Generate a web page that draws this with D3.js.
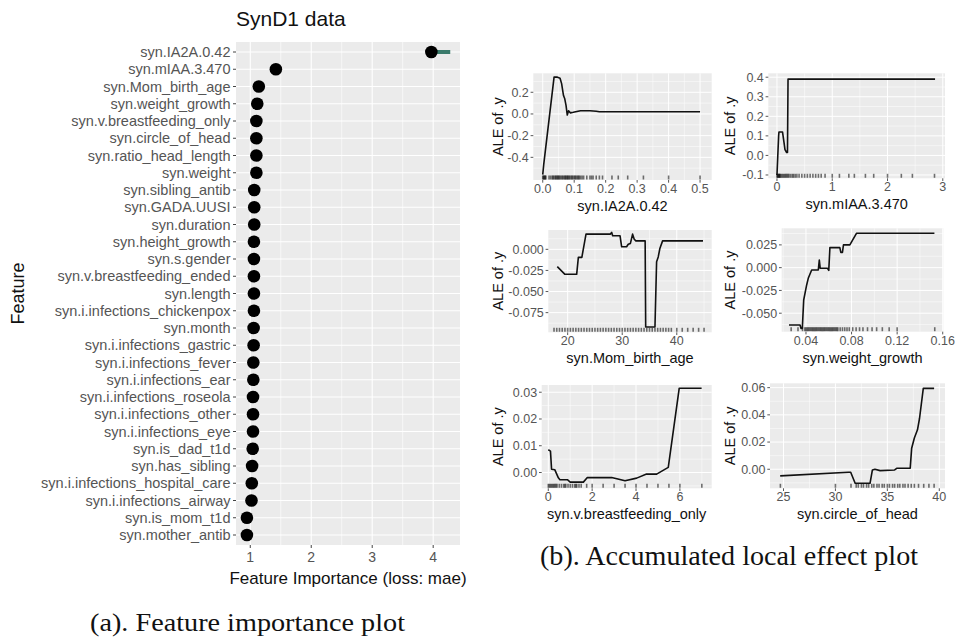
<!DOCTYPE html>
<html><head><meta charset="utf-8">
<script src="https://cdn.jsdelivr.net/npm/d3@7"></script>
<style>body{margin:0;background:#fff}svg{display:block}</style>
</head><body><svg id="c" width="955" height="643"></svg>
<script>
// ---------------- DATA ----------------
const features = ["syn.IA2A.0.42","syn.mIAA.3.470","syn.Mom_birth_age","syn.weight_growth","syn.v.breastfeeding_only","syn.circle_of_head","syn.ratio_head_length","syn.weight","syn.sibling_antib","syn.GADA.UUSI","syn.duration","syn.height_growth","syn.s.gender","syn.v.breastfeeding_ended","syn.length","syn.i.infections_chickenpox","syn.month","syn.i.infections_gastric","syn.i.infections_fever","syn.i.infections_ear","syn.i.infections_roseola","syn.i.infections_other","syn.i.infections_eye","syn.is_dad_t1d","syn.has_sibling","syn.i.infections_hospital_care","syn.i.infections_airway","syn.is_mom_t1d","syn.mother_antib"];
const importance = [3.97,1.42,1.14,1.115,1.1,1.1,1.1,1.1,1.065,1.065,1.065,1.06,1.06,1.06,1.06,1.06,1.055,1.055,1.05,1.05,1.045,1.045,1.045,1.04,1.03,1.025,1.02,0.945,0.945];
const spreadFeature = "syn.IA2A.0.42";
const spreadRange = [3.97, 4.28];
const importanceTicks = [1,2,3,4];

const ale1X = [0,0.003,0.036,0.045,0.055,0.06,0.066,0.07,0.074,0.078,0.082,0.088,0.097,0.12,0.15,0.17,0.18,0.5];
const ale1Y = [-0.56,-0.47,0.34,0.34,0.33,0.28,0.17,0.14,0.08,-0.01,0.03,0.01,0.015,0.03,0.03,0.025,0.02,0.02];
const rug1 = [0,0.002,0.004,0.006,0.008,0.01,0.02,0.025,0.03,0.033,0.036,0.04,0.042,0.045,0.048,0.05,0.053,0.056,0.06,0.063,0.066,0.07,0.072,0.075,0.078,0.08,0.083,0.086,0.09,0.093,0.096,0.1,0.103,0.106,0.11,0.113,0.116,0.12,0.125,0.13,0.14,0.15,0.155,0.16,0.17,0.18,0.19,0.22,0.24,0.27,0.32,0.4,0.5];

const ale2X = [0,0.03,0.036,0.1,0.125,0.145,0.175,0.19,0.2,2.86];
const ale2Y = [-0.1,0.1,0.12,0.12,0.07,0.03,0.015,0.015,0.39,0.39];
const rug2 = [0,0.01,0.02,0.03,0.04,0.05,0.06,0.08,0.1,0.12,0.14,0.16,0.18,0.2,0.22,0.25,0.28,0.3,0.33,0.36,0.4,0.45,0.5,0.55,0.6,0.65,0.7,0.75,0.8,0.87,1.0,1.13,1.3,1.4,1.6,1.75,2.0,2.25,2.45,2.85];

const ale3X = [18.1,19.5,21.65,21.96,22.6,23.36,27.8,28.07,28.25,29.6,29.9,30.8,31.1,31.5,31.9,32.2,32.5,34.2,34.3,36.0,36.3,36.6,36.9,37.4,44.8];
const ale3Y = [-0.0205,-0.0296,-0.0296,-0.0095,-0.0095,0.018,0.018,0.02,0.016,0.016,0.003,0.003,0.006,0.007,0.018,0.012,0.010,0.010,-0.092,-0.092,-0.0146,-0.009,0.001,0.010,0.010];
const rug3 = [17.5,18,18.5,19,19.5,20,20.5,21,21.5,22,22.5,23,23.5,24,24.5,25,25.5,26,26.5,27,27.5,28,28.5,29,29.5,30,30.5,31,31.5,32,32.5,33,33.5,34,34.5,35,35.5,36,36.5,37,37.5,38,38.5,39,40,41,42,43,44,45];

const ale4X = [0.0251,0.0348,0.0356,0.0368,0.038,0.0406,0.042,0.045,0.0508,0.0517,0.0525,0.0589,0.06,0.061,0.0697,0.0706,0.072,0.0729,0.0785,0.0843,0.1527];
const ale4Y = [-0.063,-0.063,-0.0666,-0.0666,-0.0355,-0.019,-0.0117,-0.0026,-0.0026,0.0084,-0.0007,-0.0007,-0.003,0.022,0.022,0.0168,0.0168,0.025,0.025,0.0377,0.0377];
const rug4 = [0.027,0.033,0.037,0.039,0.04,0.041,0.042,0.043,0.044,0.045,0.046,0.047,0.048,0.049,0.05,0.051,0.052,0.053,0.054,0.055,0.056,0.057,0.058,0.059,0.06,0.061,0.062,0.063,0.064,0.065,0.066,0.067,0.068,0.07,0.072,0.074,0.076,0.078,0.081,0.084,0.087,0.09,0.094,0.098,0.102,0.107,0.113,0.12,0.153];

const ale5X = [0,0.1,0.15,0.3,0.46,0.53,0.87,1.0,1.6,1.78,2.89,3.5,4.03,4.48,4.94,5.47,5.97,6.99];
const ale5Y = [0.0085,0.008,0.0012,0.001,-0.002,-0.0027,-0.0027,-0.0036,-0.0036,-0.0019,-0.0019,-0.0031,-0.0021,-0.0006,-0.0006,0.0019,0.0315,0.0315];
const rug5 = [0,0.05,0.1,0.15,0.2,0.25,0.3,0.35,0.4,0.5,0.6,0.7,0.75,0.8,0.9,1,1.1,1.2,1.25,1.3,1.4,1.5,1.75,2,2.5,3,3.5,4,4.5,5,5.5,6,7];

const ale6X = [24.68,31.25,31.47,31.9,33.33,33.56,33.8,34.3,35.7,35.9,37.2,37.34,37.6,37.9,38.1,38.46,39.5];
const ale6Y = [-0.0049,-0.0022,-0.0022,-0.0103,-0.0103,-0.0005,0,-0.001,-0.0005,0.0007,0.0007,0.0155,0.023,0.029,0.0375,0.0595,0.0595];
const rug6 = [24.7,30,31.5,32,32.2,32.5,32.7,33,33.2,33.5,33.7,34,34.2,34.5,34.7,35,35.2,35.5,35.7,36,36.2,36.5,36.7,37,37.3,37.6,38,38.5,39,39.5];

const aleTitles = ["syn.IA2A.0.42","syn.mIAA.3.470","syn.Mom_birth_age","syn.weight_growth","syn.v.breastfeeding_only","syn.circle_of_head"];
const aleXTicks = [[0,0.1,0.2,0.3,0.4,0.5],[0,1,2,3],[20,30,40],[0.04,0.08,0.12,0.16],[0,2,4,6],[25,30,35,40]];
const aleYTicks = [[-0.4,-0.2,0,0.2],[-0.1,0,0.1,0.2,0.3,0.4],[-0.075,-0.05,-0.025,0],[-0.05,-0.025,0,0.025],[0,0.01,0.02,0.03],[0,0.02,0.04,0.06]];
const aleXFormat = [".1f","d",".0f",".2f",".0f",".0f"];
const aleYFormat = [".1f",".1f",".3f",".3f",".2f",".2f"];

// ---------------- LAYOUT ----------------
const svg = d3.select("#c");
const loc = d3.formatLocale({decimal:".",thousands:",",grouping:[3],currency:["",""],minus:"-"});
const SANS = "'Liberation Sans', Arial, Helvetica, sans-serif";
const SERIF = "'Liberation Serif', 'Times New Roman', serif";
const BG = "#EBEBEB", TXT = "#555555", TICK = "#444444";

// ---- Left: feature importance ----
(function(){
  const L = {x0:236, x1:460, y0:42, y1:545};
  const x = d3.scaleLinear().domain([0.766, 4.44]).range([L.x0, L.x1]);
  const y = d3.scalePoint().domain(features).range([52, 535]);
  const g = svg.append("g");
  g.append("rect").attr("x",L.x0).attr("y",L.y0).attr("width",L.x1-L.x0).attr("height",L.y1-L.y0).attr("fill",BG);
  const minor = [];
  for (let i=0;i<importanceTicks.length-1;i++) minor.push((importanceTicks[i]+importanceTicks[i+1])/2);
  g.selectAll(".vmin").data(minor).join("line").attr("x1",d=>x(d)).attr("x2",d=>x(d)).attr("y1",L.y0).attr("y2",L.y1).attr("stroke","#fff").attr("stroke-width",0.6);
  g.selectAll(".hmaj").data(features).join("line").attr("x1",L.x0).attr("x2",L.x1).attr("y1",d=>y(d)).attr("y2",d=>y(d)).attr("stroke","#fff").attr("stroke-width",1.1);
  g.selectAll(".vmaj").data(importanceTicks).join("line").attr("x1",d=>x(d)).attr("x2",d=>x(d)).attr("y1",L.y0).attr("y2",L.y1).attr("stroke","#fff").attr("stroke-width",1.1);
  g.append("line").attr("x1",x(spreadRange[0])).attr("x2",x(spreadRange[1])).attr("y1",y(spreadFeature)).attr("y2",y(spreadFeature)).attr("stroke","#3a7a6b").attr("stroke-width",4);
  g.selectAll(".pt").data(features).join("circle").attr("cx",(d,i)=>x(importance[i])).attr("cy",d=>y(d)).attr("r",6.3).attr("fill","#000");
  g.selectAll(".yt").data(features).join("line").attr("x1",L.x0-3).attr("x2",L.x0).attr("y1",d=>y(d)).attr("y2",d=>y(d)).attr("stroke",TICK).attr("stroke-width",1);
  g.selectAll(".yl").data(features).join("text").attr("x",L.x0-5.5).attr("y",d=>y(d)).attr("dy","0.35em").attr("text-anchor","end")
    .attr("font-family",SANS).attr("font-size",14.5).attr("fill",TXT).text(d=>d);
  g.selectAll(".xt").data(importanceTicks).join("line").attr("x1",d=>x(d)).attr("x2",d=>x(d)).attr("y1",L.y1).attr("y2",L.y1+3).attr("stroke",TICK).attr("stroke-width",1);
  g.selectAll(".xl").data(importanceTicks).join("text").attr("x",d=>x(d)).attr("y",L.y1+17).attr("text-anchor","middle")
    .attr("font-family",SANS).attr("font-size",14).attr("fill",TXT).text(d=>d);
  g.append("text").attr("x",(L.x0+L.x1)/2).attr("y",584).attr("text-anchor","middle").attr("font-family",SANS).attr("font-size",17).attr("fill","#111").text("Feature Importance (loss: mae)");
  g.append("text").attr("transform",`translate(24,${(L.y0+L.y1)/2}) rotate(-90)`).attr("text-anchor","middle").attr("font-family",SANS).attr("font-size",18).attr("fill","#111").text("Feature");
  g.append("text").attr("x",L.x0).attr("y",26).attr("font-family",SANS).attr("font-size",21).attr("fill","#111").text("SynD1 data");
})();

// ---- Right: ALE panels ----
const aleData = [[ale1X,ale1Y,rug1],[ale2X,ale2Y,rug2],[ale3X,ale3Y,rug3],[ale4X,ale4Y,rug4],[ale5X,ale5Y,rug5],[ale6X,ale6Y,rug6]];
const aleLayout = [
  {x0:533.3,x1:711.7,y0:73.3,y1:180,  ylabX:499, xd:[-0.03,0.537], yd:[-0.609,0.375]},
  {x0:768.3,x1:945,  y0:73.3,y1:178.3,ylabX:731, xd:[-0.157,3.04], yd:[-0.117,0.42]},
  {x0:548.3,x1:711.7,y0:230, y1:332.3,ylabX:499, xd:[16.45,46.4], yd:[-0.0983,0.0229]},
  {x0:781.7,x1:943.3,y0:228.3,y1:331.7,ylabX:731, xd:[0.0187,0.1605], yd:[-0.0703,0.0432]},
  {x0:541.7,x1:711.7,y0:385, y1:488.3,ylabX:499, xd:[-0.3,7.45], yd:[-0.0059,0.0327]},
  {x0:770,  x1:945,  y0:383.3,y1:488.3,ylabX:731, xd:[23.7,40.55], yd:[-0.014,0.0632]}
];
function minorOf(t, dom){
  const out=[]; const s=t[1]-t[0];
  const ext=[t[0]-s,...t,t[t.length-1]+s];
  for(let i=0;i<ext.length-1;i++){const m=(ext[i]+ext[i+1])/2; if(m>=dom[0]&&m<=dom[1]) out.push(m);}
  return out;
}
aleLayout.forEach((P,k)=>{
  const [xs,ys,rug]=aleData[k];
  const x=d3.scaleLinear().domain(P.xd).range([P.x0,P.x1]);
  const y=d3.scaleLinear().domain(P.yd).range([P.y1,P.y0]);
  const g=svg.append("g");
  g.append("rect").attr("x",P.x0).attr("y",P.y0).attr("width",P.x1-P.x0).attr("height",P.y1-P.y0).attr("fill",BG);
  const xt=aleXTicks[k], yt=aleYTicks[k];
  g.selectAll(".xm").data(minorOf(xt,P.xd)).join("line").attr("x1",d=>x(d)).attr("x2",d=>x(d)).attr("y1",P.y0).attr("y2",P.y1).attr("stroke","#fff").attr("stroke-width",0.5);
  g.selectAll(".ym").data(minorOf(yt,P.yd)).join("line").attr("y1",d=>y(d)).attr("y2",d=>y(d)).attr("x1",P.x0).attr("x2",P.x1).attr("stroke","#fff").attr("stroke-width",0.5);
  g.selectAll(".xM").data(xt).join("line").attr("x1",d=>x(d)).attr("x2",d=>x(d)).attr("y1",P.y0).attr("y2",P.y1).attr("stroke","#fff").attr("stroke-width",1);
  g.selectAll(".yM").data(yt).join("line").attr("y1",d=>y(d)).attr("y2",d=>y(d)).attr("x1",P.x0).attr("x2",P.x1).attr("stroke","#fff").attr("stroke-width",1);
  g.selectAll(".rug").data(rug).join("line").attr("x1",d=>x(d)).attr("x2",d=>x(d)).attr("y1",P.y1-4.5).attr("y2",P.y1-0.5).attr("stroke","#000").attr("stroke-opacity",0.55).attr("stroke-width",1.6);
  const line=d3.line().x(d=>x(d[0])).y(d=>y(d[1]));
  g.append("path").attr("d",line(xs.map((v,i)=>[v,ys[i]]))).attr("fill","none").attr("stroke","#111").attr("stroke-width",1.6).attr("stroke-linejoin","round");
  const fx=loc.format(aleXFormat[k]), fy=loc.format(aleYFormat[k]);
  g.selectAll(".xt").data(xt).join("line").attr("x1",d=>x(d)).attr("x2",d=>x(d)).attr("y1",P.y1).attr("y2",P.y1+2.7).attr("stroke",TICK).attr("stroke-width",0.9);
  g.selectAll(".yt").data(yt).join("line").attr("y1",d=>y(d)).attr("y2",d=>y(d)).attr("x1",P.x0-2.7).attr("x2",P.x0).attr("stroke",TICK).attr("stroke-width",0.9);
  g.selectAll(".xl").data(xt).join("text").attr("x",d=>x(d)).attr("y",P.y1+13).attr("text-anchor","middle").attr("font-family",SANS).attr("font-size",12.5).attr("fill",TXT).text(d=>fx(d));
  g.selectAll(".yl").data(yt).join("text").attr("x",P.x0-4.5).attr("y",d=>y(d)).attr("dy","0.35em").attr("text-anchor","end").attr("font-family",SANS).attr("font-size",12.5).attr("fill",TXT).text(d=>fy(d));
  g.append("text").attr("x",(P.x0+P.x1)/2).attr("y",P.y1+31).attr("text-anchor","middle").attr("font-family",SANS).attr("font-size",14.5).attr("fill","#111").text(aleTitles[k]);
  g.append("text").attr("transform",`translate(${P.ylabX+4},${(P.y0+P.y1)/2}) rotate(-90)`).attr("text-anchor","middle").attr("font-family",SANS).attr("font-size",14.5).attr("fill","#111").text("ALE of .y");
});

// ---- Captions ----
svg.append("text").attr("x",90).attr("y",631).attr("font-family",SERIF).attr("font-size",26).attr("fill","#111")
  .attr("textLength",315).attr("lengthAdjust","spacingAndGlyphs").text("(a). Feature importance plot");
svg.append("text").attr("x",540).attr("y",565).attr("font-family",SERIF).attr("font-size",27).attr("fill","#111")
  .attr("textLength",378).attr("lengthAdjust","spacingAndGlyphs").text("(b). Accumulated local effect plot");
</script></body></html>
